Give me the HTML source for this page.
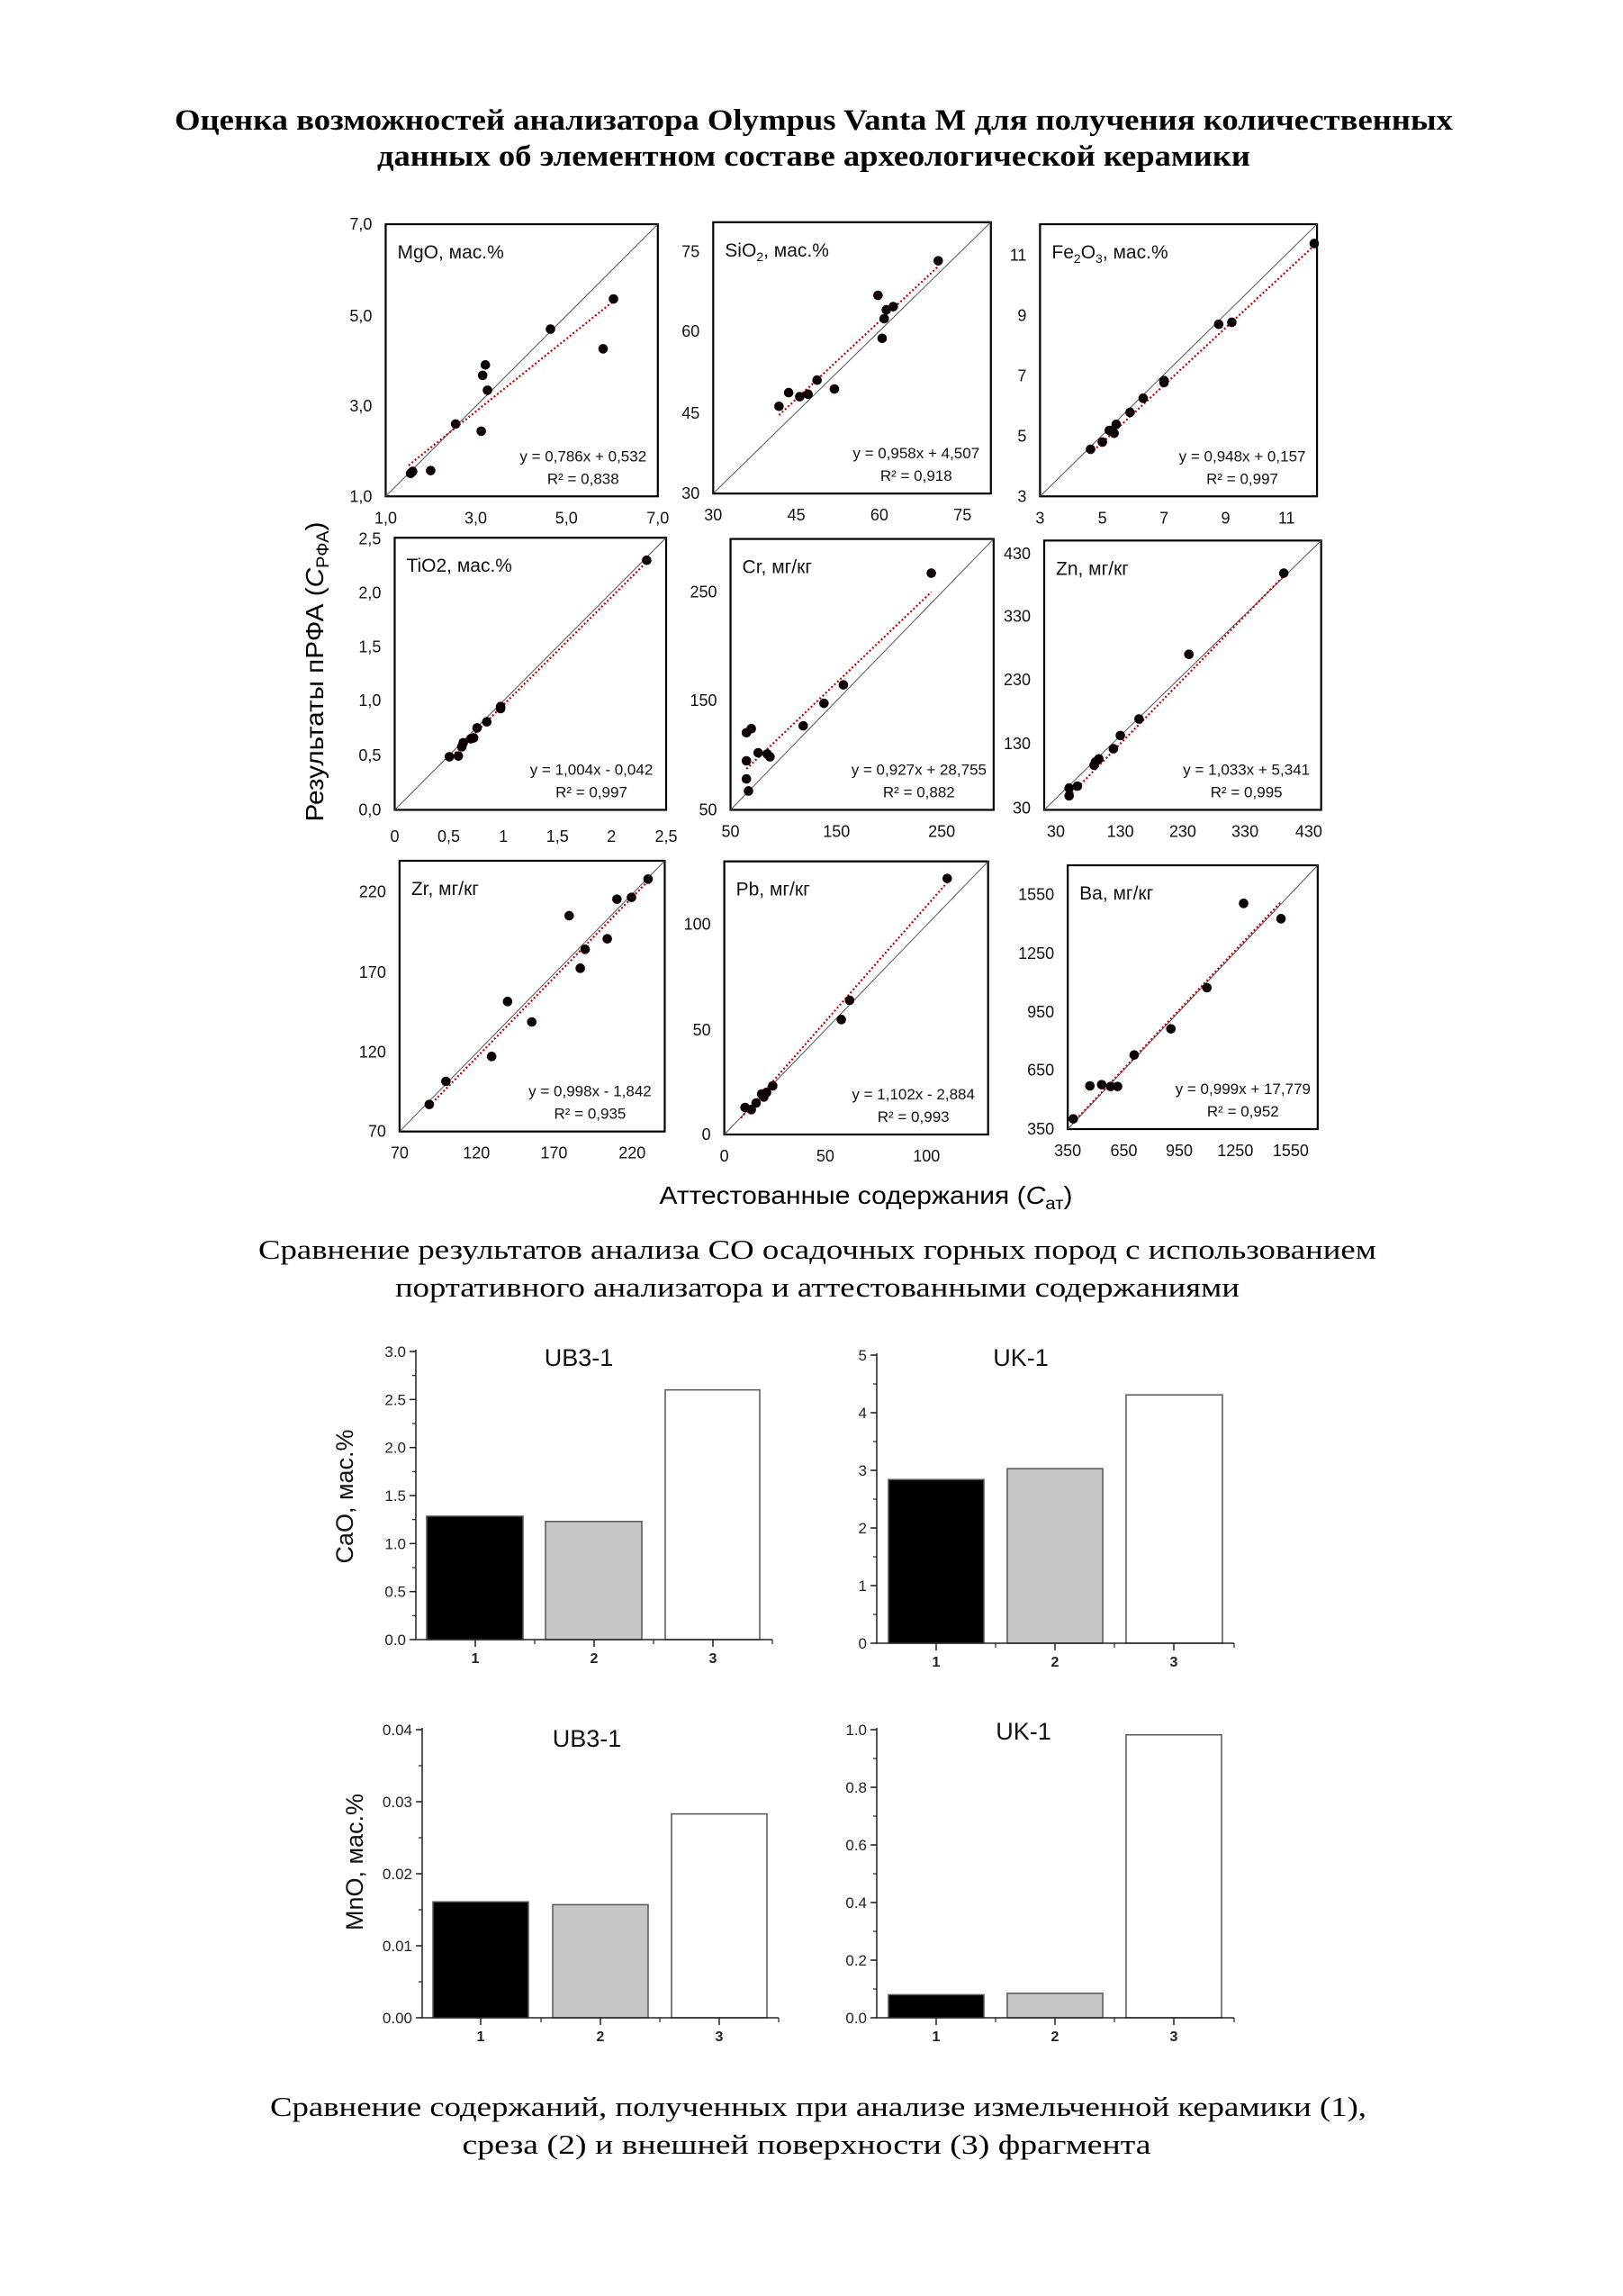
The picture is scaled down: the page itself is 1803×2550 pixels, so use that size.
<!DOCTYPE html>
<html><head><meta charset="utf-8">
<style>
html,body{margin:0;padding:0;background:#fff;}
svg{display:block;}
text{font-family:"Liberation Sans","DejaVu Sans",sans-serif;}
.serif{font-family:"Liberation Serif","DejaVu Serif",serif;}
</style></head>
<body>
<svg id="s" xmlns="http://www.w3.org/2000/svg" width="1803" height="2550" viewBox="0 0 1803 2550">
<rect width="1803" height="2550" fill="#fff"/>
<text class="serif" x="904" y="144" font-size="33" font-weight="bold" text-anchor="middle" textLength="1420" lengthAdjust="spacingAndGlyphs">Оценка возможностей анализатора Olympus Vanta M для получения количественных</text>
<text class="serif" x="904" y="184" font-size="33" font-weight="bold" text-anchor="middle" textLength="970" lengthAdjust="spacingAndGlyphs">данных об элементном составе археологической керамики</text>

<text x="0" y="0" font-size="28" text-anchor="middle" transform="translate(359,746) rotate(-90)" textLength="333" lengthAdjust="spacingAndGlyphs">Результаты пРФА (<tspan font-style="italic">C</tspan><tspan font-size="19" dy="6">РФА</tspan><tspan dy="-6">)</tspan></text>
<text x="962" y="1337" font-size="28" text-anchor="middle" textLength="459" lengthAdjust="spacingAndGlyphs">Аттестованные содержания (<tspan font-style="italic">C</tspan><tspan font-size="19" dy="6">ат</tspan><tspan dy="-6">)</tspan></text>

<text class="serif" x="908" y="1398" font-size="31" text-anchor="middle" textLength="1242" lengthAdjust="spacingAndGlyphs">Сравнение результатов анализа СО осадочных горных пород с использованием</text>
<text class="serif" x="908" y="1440" font-size="31" text-anchor="middle" textLength="938" lengthAdjust="spacingAndGlyphs">портативного анализатора и аттестованными содержаниями</text>

<text class="serif" x="909" y="2350" font-size="31" text-anchor="middle" textLength="1218" lengthAdjust="spacingAndGlyphs">Сравнение содержаний, полученных при анализе измельченной керамики (1),</text>
<text class="serif" x="896" y="2392" font-size="31" text-anchor="middle" textLength="765" lengthAdjust="spacingAndGlyphs">среза (2) и внешней поверхности (3) фрагмента</text>
<g id="g"></g>
</svg>
<script>
(function(){
var Z1=function(x,y){return [300+x/1.3,220+y/2.24];};
var Z2=function(x,y){return [300+x/1.3,900+y/3];};
var P=[
{z:Z1,b:[167,65,560,742],t:'MgO, мас.%',eq:'y = 0,786x + 0,532',r2:'0,838',
 pts:[[203,685],[206,680],[232,678],[268,562],[305,580],[307,441],[311,415],[314,478],[405,326],[481,375],[496,251]],reg:[200,665,497,255],
 yl:[['7,0',65],['5,0',293],['3,0',517],['1,0',742]],xl:[['1,0',167],['3,0',297],['5,0',428],['7,0',560]]},
{z:Z1,b:[640,60,1041,735],t:'SiO<tspan font-size="14" dy="5">2</tspan><tspan dy="-5">, мас.%</tspan>',eq:'y = 0,958x + 4,507',r2:'0,918',
 pts:[[735,518],[749,484],[765,494],[777,488],[790,453],[815,475],[878,242],[884,349],[887,300],[890,278],[900,270],[965,156]],reg:[735,540,965,170],
 yl:[['75',133],['60',332],['45',535],['30',735]],xl:[['30',640],['45',760],['60',880],['75',1000]]},
{z:Z1,b:[1112,65,1512,742],t:'Fe<tspan font-size="14" dy="5">2</tspan><tspan dy="-5">O</tspan><tspan font-size="14" dy="5">3</tspan><tspan dy="-5">, мас.%</tspan>',eq:'y = 0,948x + 0,157',r2:'0,997',
 pts:[[1185,625],[1202,607],[1212,578],[1219,585],[1222,563],[1242,533],[1261,498],[1291,459],[1291,454],[1370,314],[1389,309],[1508,113]],reg:[1185,635,1508,118],
 yl:[['11',142],['9',292],['7',442],['5',592],['3',742]],xl:[['3',1112],['5',1202],['7',1291],['9',1380],['11',1468]]},
{z:Z1,b:[180,845,572,1522],t:'TiO2, мас.%',eq:'y = 1,004x - 0,042',r2:'0,997',
 pts:[[259,1390],[272,1388],[277,1365],[279,1355],[290,1345],[294,1343],[299,1318],[313,1303],[333,1270],[333,1265],[544,901]],reg:[259,1395,544,905],
 yl:[['2,5',848],['2,0',982],['1,5',1117],['1,0',1250],['0,5',1387],['0,0',1522]],
 xlz:Z2,xly:0,xl:[['0',180],['0,5',258],['1',337],['1,5',415],['2',493],['2,5',572]]},
{z:Z1,b:[665,848,1045,1522],t:'Cr, мг/кг',eq:'y = 0,927x + 28,755',r2:'0,882',
 pts:[[688,1330],[695,1320],[688,1400],[688,1445],[691,1475],[705,1380],[718,1383],[722,1390],[770,1313],[800,1257],[828,1211],[955,933]],reg:[688,1420,955,980],
 yl:[['250',980],['150',1250],['50',1522]],xl:[['50',665],['150',818],['250',970]]},
{z:Z1,b:[1118,852,1518,1522],t:'Zn, мг/кг',eq:'y = 1,033x + 5,341',r2:'0,995',
 pts:[[1154,1487],[1154,1468],[1166,1463],[1190,1411],[1192,1403],[1197,1395],[1218,1370],[1228,1337],[1255,1296],[1327,1135],[1464,933]],reg:[1150,1495,1464,940],
 yl:[['430',885],['330',1040],['230',1198],['130',1357],['30',1518]],xl:[['30',1135],['130',1228],['230',1318],['330',1408],['430',1500]]},
{z:Z2,b:[187,168,570,1070],t:'Zr, мг/кг',eq:'y = 0,998x - 1,842',r2:'0,935',
 pts:[[230,980],[254,903],[320,820],[343,637],[378,705],[432,351],[448,526],[455,463],[487,428],[501,296],[522,290],[546,229]],reg:[230,985,546,235],
 yl:[['220',272],['170',540],['120',805],['70',1070]],xl:[['70',187],['120',298],['170',410],['220',523]]},
{z:Z2,b:[656,170,1037,1080],t:'Pb, мг/кг',eq:'y = 1,102x - 2,884',r2:'0,993',
 pts:[[686,990],[695,997],[702,975],[710,945],[713,955],[717,940],[726,918],[825,697],[837,633],[978,227]],reg:[680,1025,978,240],
 yl:[['100',380],['50',732],['0',1080]],xl:[['0',656],['50',802],['100',948]]},
{z:Z2,b:[1152,183,1513,1062],t:'Ba, мг/кг',eq:'y = 0,999x + 17,779',r2:'0,952',
 pts:[[1160,1028],[1184,918],[1201,914],[1214,920],[1224,920],[1248,815],[1301,728],[1353,591],[1406,310],[1460,361]],reg:[1160,1040,1460,305],
 yl:[['1550',280],['1250',477],['950',672],['650',866],['350',1062]],xl:[['350',1152],['650',1233],['950',1313],['1250',1394],['1550',1474]]}
];
var h='';
P.forEach(function(p){
 var a=p.z(p.b[0],p.b[1]),c=p.z(p.b[2],p.b[3]);
 var L=a[0],T=a[1],R=c[0],B=c[1];
 h+='<rect x="'+L+'" y="'+T+'" width="'+(R-L)+'" height="'+(B-T)+'" fill="none" stroke="#000" stroke-width="2.2"/>';
 h+='<line x1="'+L+'" y1="'+B+'" x2="'+R+'" y2="'+T+'" stroke="#555" stroke-width="1"/>';
 var r1=p.z(p.reg[0],p.reg[1]),r2=p.z(p.reg[2],p.reg[3]);
 h+='<line x1="'+r1[0]+'" y1="'+r1[1]+'" x2="'+r2[0]+'" y2="'+r2[1]+'" stroke="#c00000" stroke-width="2.2" stroke-dasharray="2,2.5"/>';
 p.pts.forEach(function(q){var m=p.z(q[0],q[1]);h+='<circle cx="'+m[0]+'" cy="'+m[1]+'" r="5.3" fill="#0a0000"/>';});
 h+='<text x="'+(L+13)+'" y="'+(T+38)+'" font-size="21" fill="#111">'+p.t+'</text>';
 h+='<text x="'+(R-83)+'" y="'+(B-39)+'" font-size="17" text-anchor="middle" fill="#111">'+p.eq+'</text>';
 h+='<text x="'+(R-83)+'" y="'+(B-14)+'" font-size="17" text-anchor="middle" fill="#111">R² = '+p.r2+'</text>';
 p.yl.forEach(function(t){var m=p.z(0,t[1]);h+='<text x="'+(L-15)+'" y="'+(m[1]+6)+'" font-size="18" text-anchor="end" fill="#111">'+t[0]+'</text>';});
 var xz=p.xlz||p.z;
 p.xl.forEach(function(t){var m=xz(t[1],0);var yy=(p.xlz?905:B)+30;h+='<text x="'+m[0]+'" y="'+yy+'" font-size="18" text-anchor="middle" fill="#111">'+t[0]+'</text>';});
});
function bars(o){
 var s='';
 var sc=(o.y0-o.yT)/o.vmax;
 o.bars.forEach(function(b){var top=o.y0-b[2]*sc;s+='<rect x="'+b[0]+'" y="'+top+'" width="'+(b[1]-b[0])+'" height="'+(o.y0-top)+'" fill="'+b[3]+'" stroke="#555" stroke-width="1.5"/>';});
 s+='<line x1="'+o.ax+'" y1="'+(o.yT-2)+'" x2="'+o.ax+'" y2="'+o.y0+'" stroke="#222" stroke-width="1.5"/>';
 s+='<line x1="'+o.ax+'" y1="'+o.y0+'" x2="'+o.xe+'" y2="'+o.y0+'" stroke="#222" stroke-width="1.5"/>';
 for(var v=0;v<=o.vmax+1e-9;v+=o.minor){var y=o.y0-v*sc;s+='<line x1="'+(o.ax-4)+'" y1="'+y+'" x2="'+o.ax+'" y2="'+y+'" stroke="#222" stroke-width="1.2"/>';}
 o.labels.forEach(function(l,i){var y=o.y0-i*o.step*sc;s+='<line x1="'+(o.ax-7)+'" y1="'+y+'" x2="'+o.ax+'" y2="'+y+'" stroke="#222" stroke-width="1.5"/>';
  s+='<text x="'+(o.ax-11)+'" y="'+(y+6)+'" font-size="17" text-anchor="end" fill="#222">'+l+'</text>';});
 o.cat.forEach(function(cx,i){s+='<line x1="'+cx+'" y1="'+o.y0+'" x2="'+cx+'" y2="'+(o.y0+8)+'" stroke="#222" stroke-width="1.5"/>';
  s+='<text x="'+cx+'" y="'+(o.y0+26)+'" font-size="16" font-weight="bold" text-anchor="middle" fill="#222">'+(i+1)+'</text>';});
 o.bd.forEach(function(bx){s+='<line x1="'+bx+'" y1="'+o.y0+'" x2="'+bx+'" y2="'+(o.y0+5)+'" stroke="#222" stroke-width="1.2"/>';});
 s+='<text x="'+o.tx+'" y="'+o.ty+'" font-size="27" text-anchor="middle" fill="#111">'+o.title+'</text>';
 return s;
}
var K='#000',G='#c6c6c6',W='#fff';
h+=bars({ax:462,y0:1821,yT:1501,vmax:3,step:0.5,minor:0.25,xe:858,labels:['0.0','0.5','1.0','1.5','2.0','2.5','3.0'],
 bars:[[474,581,1.285,K],[606,713,1.23,G],[739,844,2.6,W]],cat:[528,660,792],bd:[594,726,858],title:'UB3-1',tx:643,ty:1517});
h+=bars({ax:974,y0:1825,yT:1505,vmax:5,step:1,minor:0.5,xe:1371,labels:['0','1','2','3','4','5'],
 bars:[[987,1093,2.84,K],[1119,1225,3.03,G],[1251,1358,4.31,W]],cat:[1040,1172,1304],bd:[1106,1238,1371],title:'UK-1',tx:1134,ty:1517});
h+=bars({ax:469,y0:2241,yT:1921,vmax:0.04,step:0.01,minor:0.005,xe:865,labels:['0.00','0.01','0.02','0.03','0.04'],
 bars:[[481,587,0.0161,K],[614,720,0.0157,G],[746,852,0.0283,W]],cat:[534,667,799],bd:[601,733,865],title:'UB3-1',tx:652,ty:1940});
h+=bars({ax:974,y0:2241,yT:1921,vmax:1.0,step:0.2,minor:0.1,xe:1371,labels:['0.0','0.2','0.4','0.6','0.8','1.0'],
 bars:[[987,1093,0.08,K],[1119,1225,0.085,G],[1251,1357,0.982,W]],cat:[1040,1172,1304],bd:[1106,1238,1371],title:'UK-1',tx:1137,ty:1932});
h+='<text x="0" y="0" font-size="27" text-anchor="middle" transform="translate(392,1662) rotate(-90)" fill="#111">CaO, мас.%</text>';
h+='<text x="0" y="0" font-size="27" text-anchor="middle" transform="translate(403,2068) rotate(-90)" fill="#111">MnO, мас.%</text>';
document.getElementById('g').innerHTML=h;
})();
</script>
</body></html>
